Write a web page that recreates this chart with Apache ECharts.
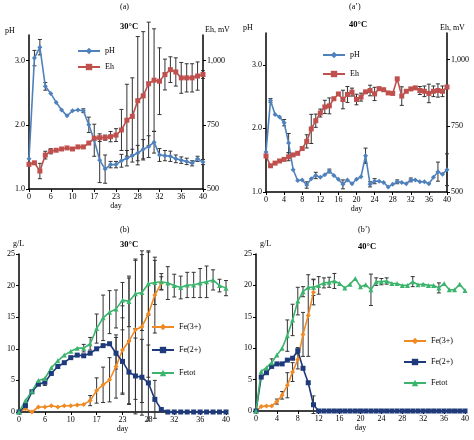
<!DOCTYPE html>
<html>
<head>
<meta charset="utf-8">
<script src="https://cdn.jsdelivr.net/npm/echarts@6/dist/echarts.min.js"></script>
<style>html,body{margin:0;background:#fff}#c{width:474px;height:440px}</style>
</head>
<body>
<div id="c"></div>
<script>
// days shown at 30°C (uneven sampling)
var days30 = ['0','1','3','4','6','7','8','9','10','12','13','15','17','18','20','21','23','24','25','27','28','29','30','31','32','33','34','35','36','37','38','39','40'];

// (a) 30°C
var phA = [1.47,3.04,3.21,2.6,2.49,2.35,2.23,2.14,2.22,2.23,2.22,2.0,1.76,1.45,1.31,1.38,1.38,1.44,1.48,1.52,1.56,1.62,1.66,1.73,1.53,1.52,1.51,1.47,1.45,1.43,1.4,1.47,1.42];
var phAErr = [0,0.12,0.12,0.06,0,0,0,0,0,0,0.03,0.12,0.25,0.35,0.22,0.05,0.05,0.1,0.12,0.1,0.12,0.15,0.17,0.17,0.1,0.08,0.08,0.06,0.05,0.05,0.04,0.04,0.04];
var ehA = [596,602,570,632,647,651,656,660,656,664,664,679,698,700,700,704,710,730,768,783,844,863,910,924,920,946,965,956,933,933,933,940,946];
var ehAErr = [0,0,30,15,10,0,0,0,0,0,0,0,0,15,10,20,25,80,140,150,250,250,240,200,130,60,50,55,60,55,55,55,15];

// (a') 40°C, daily
var phB = [1.63,2.44,2.22,2.18,2.09,1.77,1.35,1.18,1.19,1.11,1.21,1.26,1.23,1.27,1.33,1.26,1.2,1.12,1.19,1.13,1.2,1.24,1.57,1.12,1.17,1.17,1.15,1.08,1.12,1.16,1.15,1.13,1.19,1.19,1.16,1.16,1.13,1.23,1.32,1.28,1.35];
var phBErr = [0,0.03,0,0,0.05,0.15,0,0,0,0.05,0,0.05,0,0,0.03,0,0,0.07,0,0,0,0,0.12,0.04,0.04,0,0,0,0,0.03,0,0,0.03,0,0,0,0,0,0.15,0,0.25];
var ehB = [636,599,609,617,623,633,640,646,664,691,738,769,798,821,825,852,870,849,868,877,849,858,878,883,870,890,886,874,872,927,862,880,889,893,883,880,872,880,883,880,896];
var ehBErr = [0,0,0,0,0,15,0,0,0,25,55,25,15,25,30,0,0,35,30,15,20,15,0,20,25,0,0,0,0,0,35,0,0,0,15,20,35,20,25,20,0];

// (b) 30°C iron
var fe3A = [0,0.5,0,0.8,0.8,1,0.8,1,1,1.1,1.2,1.8,3.4,4.3,5.1,7.2,9.8,11.2,13,13.5,15.5,18.5,20.4,null,null,null,null,null,null,null,null,null,null];
var fe3AErr = [0,0,0,0,0,0,0,0,0,0,0,0.8,2,2.8,3.5,5,7,10,11,12,10,6,1];
var fe2A = [0,1,3.2,4.4,4.7,6.1,7.2,7.8,8.6,9,8.9,9.3,10,10.5,10.8,9.3,8,6.3,5.7,5.5,4.6,2,0.4,0,0,0,0,0,0,0,0,0,0];
var fe2AErr = [0,0,0,0,0.5,0,0,0,0,0,0,0,0,0,0,2.5,5,5,6,6,6,3,0];
var fetA = [0,1.8,3.3,5,5.3,7,8.1,9,9.6,10.1,10.1,10.8,13.2,14.9,15.8,16.3,17.7,17.5,18.7,18.9,20.3,20.5,20.6,20.4,20,19.7,20.1,20.1,20.4,20.6,20.9,20,19.6];
var fetAErr = [0,0,0,0,0,0,0,0,0,0,0.6,1,2.3,3.6,3.4,3,2.8,4,5.5,6,5,3.5,1.3,2.6,1.8,1.8,2,2,2.3,2.5,1.6,1,1.2];

// (b') 40°C iron, daily
var fe3B = [0,0.7,0.8,0.8,1.5,2.5,4.1,6.2,8.2,12.2,15.2,18.9];
var fe3BErr = [0,0,0,0,0.4,0.6,2,1.5,1.5,3.5,6.5,2];
var fe2B = [0,5.4,6.1,7.1,7.5,7.5,8.1,8.4,9.6,6.8,4.5,1,0,0,0,0,0,0,0,0,0,0,0,0,0,0,0,0,0,0,0,0,0,0,0,0,0,0,0,0,0];
var fe2BErr = [0,0,0,0,0,0,0,0,0.5,0,0,1.4];
var fetB = [0,6.3,6.9,7.7,8.9,10,12,14.5,17.5,19,19.7,19.7,20,20.4,20.5,20.7,20.3,19.6,20.2,21.1,19.8,20.1,19.3,20.6,20.6,20.7,20.3,20.3,20,20,20.6,20.1,20.2,20,20,19.6,20.3,19.3,19.3,20.2,19.2];
var fetBErr = [0,0,0,0.6,0,0,2.5,2.5,2.2,0.8,0,1.3,1.4,0.8,0.8,1.2,0,0,0,0,0,0,2.5,0.6,0.5,0.5,0,0,0,0,0.8,0,0,0,0,0.8,0,0,0,0,0];

var FONT = 'Liberation Serif';
var C_PH = '#4f81bd', C_EH = '#c0504d', C_FE3 = '#f08a24', C_FE2 = '#1f3a7a', C_FET = '#3cb46e';

function pairs(vals) {
  return vals.map(function (v, i) { return [i, v]; });
}

function errSeries(vals, errs, xi, yi) {
  var d = [];
  vals.forEach(function (v, i) {
    var e = errs[i] || 0;
    if (v != null && e > 0) d.push([i, v - e, v + e]);
  });
  return {
    type: 'custom', xAxisIndex: xi, yAxisIndex: yi, z: 1, silent: true,
    data: d, encode: { x: 0, y: [1, 2] },
    renderItem: function (params, api) {
      var a = api.coord([api.value(0), api.value(1)]);
      var b = api.coord([api.value(0), api.value(2)]);
      var s = { stroke: '#333', lineWidth: 1 };
      return { type: 'group', children: [
        { type: 'line', shape: { x1: a[0], y1: a[1], x2: b[0], y2: b[1] }, style: s },
        { type: 'line', shape: { x1: a[0] - 2, y1: a[1], x2: a[0] + 2, y2: a[1] }, style: s },
        { type: 'line', shape: { x1: b[0] - 2, y1: b[1], x2: b[0] + 2, y2: b[1] }, style: s }
      ]};
    }
  };
}

function lineSeries(name, vals, color, sym, size, xi, yi) {
  return {
    name: name, type: 'line', xAxisIndex: xi, yAxisIndex: yi, z: 3,
    data: pairs(vals), symbol: sym, symbolSize: size, showAllSymbol: true, connectNulls: false,
    lineStyle: { color: color, width: 1.6 }, itemStyle: { color: color }
  };
}

var lbl = { fontFamily: FONT, fontSize: 8, color: '#000' };
var axLine = { show: true, lineStyle: { color: '#000', width: 1.5 } };
var tick = { show: true, length: 3, inside: false, lineStyle: { color: '#000' } };

function catX(gi) {
  return { type: 'category', gridIndex: gi, data: days30, boundaryGap: false,
    name: 'day', nameLocation: 'middle', nameGap: 10, nameTextStyle: lbl,
    axisLine: axLine, axisTick: { show: true, length: 3, interval: function (i) { return i % 4 === 0; } },
    axisLabel: Object.assign({ interval: function (i) { return i % 4 === 0; }, margin: 4 }, lbl),
    splitLine: { show: false } };
}
function valX(gi) {
  return { type: 'value', gridIndex: gi, min: 0, max: 40, interval: 4,
    name: 'day', nameLocation: 'middle', nameGap: 10, nameTextStyle: lbl,
    axisLine: axLine, axisTick: tick, axisLabel: Object.assign({ margin: 4 }, lbl), splitLine: { show: false } };
}
function valY(gi, min, max, itv, pos, fmt, hideMax) {
  return { type: 'value', gridIndex: gi, min: min, max: max, interval: itv, position: pos,
    axisLine: axLine, axisTick: tick,
    axisLabel: Object.assign({ margin: 4, formatter: fmt, showMaxLabel: !hideMax }, lbl), splitLine: { show: false } };
}
var f1 = function (v) { return v.toFixed(1); };

function title(text, x, y, bold) {
  return { type: 'text', left: x, top: y, style: { text: text, fontFamily: FONT, fontSize: bold ? 8.5 : 8, fontWeight: bold ? 'bold' : 'normal', fill: '#000', textAlign: 'center' } };
}
function note(text, x, y) {
  return { type: 'text', left: x, top: y, style: { text: text, fontFamily: FONT, fontSize: 8, fill: '#000' } };
}

function legend(names, left, top, gap) {
  return { data: names, orient: 'vertical', left: left, top: top, itemGap: gap,
    itemWidth: 22, itemHeight: 8, textStyle: { fontFamily: FONT, fontSize: 8, color: '#000' } };
}

var chart = echarts.init(document.getElementById('c'));
chart.setOption({
  animation: false,
  grid: [
    { left: 29, top: 35, width: 174, height: 154 },
    { left: 266, top: 33, width: 181, height: 159 },
    { left: 19, top: 254, width: 207, height: 158 },
    { left: 256, top: 254, width: 209, height: 157 }
  ],
  xAxis: [catX(0), valX(1), catX(2), valX(3)],
  yAxis: [
    valY(0, 1, 3.4, 1, 'left', f1, true),
    valY(0, 500, 1100, 250, 'right', null, true),
    valY(1, 1, 3.5, 1, 'left', f1, true),
    valY(1, 500, 1100, 250, 'right', null, true),
    valY(2, 0, 25, 5, 'left'),
    valY(3, 0, 25, 5, 'left')
  ],
  legend: [
    legend(['pH', 'Eh'], 72, 42, 8),
    legend(['pH ', 'Eh '], 317, 46, 11),
    legend(['Fe(3+)', 'Fe(2+)', 'Fetot'], 146, 318, 15),
    legend(['Fe(3+) ', 'Fe(2+) ', 'Fetot '], 398, 332, 13)
  ],
  graphic: [
    title('(a)', 120, 3), title('30°C', 120, 22, true),
    title('(a\u2019)', 349, 3), title('40°C', 349, 20, true),
    title('(b)', 120, 226), title('30°C', 120, 240, true),
    title('(b\u2019)', 358, 226), title('40°C', 358, 242, true),
    note('pH', 5, 27), note('Eh, mV', 205, 26),
    note('pH', 243, 24), note('Eh, mV', 440, 24),
    note('g/L', 13, 240), note('g/L', 260, 240)
  ],
  series: [
    errSeries(phA, phAErr, 0, 0), errSeries(ehA, ehAErr, 0, 1),
    lineSeries('pH', phA, C_PH, 'diamond', 5, 0, 0),
    lineSeries('Eh', ehA, C_EH, 'rect', 5, 0, 1),

    errSeries(phB, phBErr, 1, 2), errSeries(ehB, ehBErr, 1, 3),
    lineSeries('pH ', phB, C_PH, 'diamond', 5, 1, 2),
    lineSeries('Eh ', ehB, C_EH, 'rect', 5, 1, 3),

    errSeries(fe3A, fe3AErr, 2, 4), errSeries(fe2A, fe2AErr, 2, 4), errSeries(fetA, fetAErr, 2, 4),
    lineSeries('Fe(3+)', fe3A, C_FE3, 'diamond', 5, 2, 4),
    lineSeries('Fe(2+)', fe2A, C_FE2, 'rect', 5, 2, 4),
    lineSeries('Fetot', fetA, C_FET, 'triangle', 5, 2, 4),

    errSeries(fe3B, fe3BErr, 3, 5), errSeries(fe2B, fe2BErr, 3, 5), errSeries(fetB, fetBErr, 3, 5),
    lineSeries('Fe(3+) ', fe3B, C_FE3, 'diamond', 5, 3, 5),
    lineSeries('Fe(2+) ', fe2B, C_FE2, 'rect', 5, 3, 5),
    lineSeries('Fetot ', fetB, C_FET, 'triangle', 5, 3, 5)
  ]
});
</script>
</body>
</html>
